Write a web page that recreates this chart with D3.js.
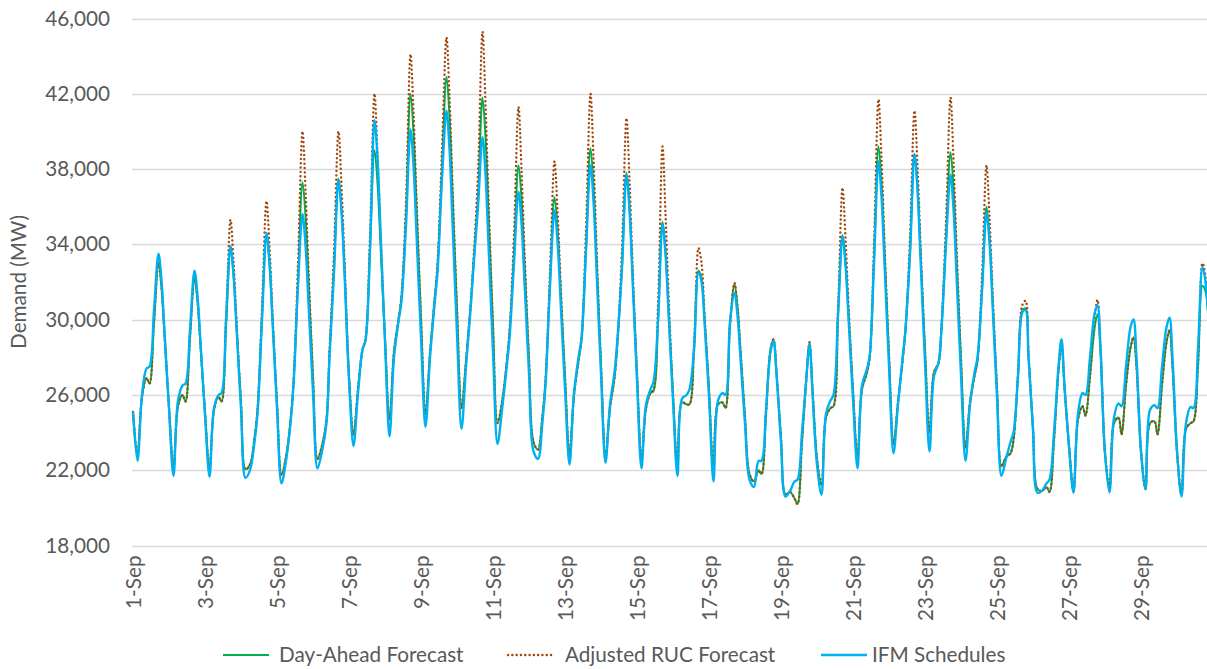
<!DOCTYPE html>
<html>
<head>
<meta charset="utf-8">
<script src="https://cdn.jsdelivr.net/npm/d3@7"></script>
<style>
  body { margin: 0; background: #fff; }
  text { font-family: Lato, "Open Sans", sans-serif; fill: #595959; }
</style>
</head>
<body>
<svg id="chart" width="1207" height="669"></svg>
<script>
var dayLabels = ["1-Sep","2-Sep","3-Sep","4-Sep","5-Sep","6-Sep","7-Sep","8-Sep","9-Sep","10-Sep",
  "11-Sep","12-Sep","13-Sep","14-Sep","15-Sep","16-Sep","17-Sep","18-Sep","19-Sep","20-Sep",
  "21-Sep","22-Sep","23-Sep","24-Sep","25-Sep","26-Sep","27-Sep","28-Sep","29-Sep","30-Sep"];

var sampleHours = [0, 3, 6, 9, 11, 14, 17, 19, 21];

var yTicks = [18000, 22000, 26000, 30000, 34000, 38000, 42000, 46000];

var seriesNames = ["Day-Ahead Forecast", "Adjusted RUC Forecast", "IFM Schedules"];

var dayAhead = [
  25100, 22800, 25900, 26900, 26600, 29800, 33000, 31690, 29190,
  25370, 22100, 25400, 26000, 25650, 29000, 32200, 30980, 28650,
  25095, 22050, 25200, 25900, 25650, 29600, 33800, 32390, 29690,
  25575, 22050, 22300, 23700, 25200, 30200, 34500, 32970, 30040,
  25575, 21750, 22700, 24600, 26600, 32000, 37300, 35540, 32160,
  27010, 22600, 23300, 24700, 28200, 32800, 37500, 35870, 32740,
  27000, 23900, 26300, 28400, 28900, 33800, 39000, 37280, 34000,
  28990, 24700, 28300, 30000, 31200, 35500, 42000, 39960, 36050,
  30100, 25000, 28200, 31000, 32800, 38000, 42900, 40790, 36740,
  30580, 25300, 27800, 30700, 33000, 36500, 41800, 39720, 35750,
  29690, 24500, 25600, 27600, 29300, 33500, 38200, 36440, 33060,
  27910, 23500, 23100, 24900, 26700, 32000, 36500, 34870, 31740,
  26980, 22900, 26000, 27800, 28900, 33700, 39100, 37130, 33360,
  27620, 22700, 25300, 26900, 28800, 32800, 37800, 35980, 32480,
  27160, 22600, 25300, 26100, 26200, 29900, 35200, 33630, 30620,
  26030, 22100, 25600, 25500, 25500, 28400, 32600, 32200, 30110,
  26280, 21900, 25500, 25600, 25300, 29700, 31900, 30690, 28365,
  24830, 21800, 21400, 22000, 21800, 25000, 28400, 28960, 27200,
  23700, 20700, 20850, 20500, 20200, 23500, 27000, 28800, 26300,
  22600, 21200, 24800, 25300, 25400, 30100, 34500, 33080, 30370,
  26240, 22700, 26300, 27100, 27900, 33200, 39200, 37300, 33670,
  28140, 23400, 25600, 27800, 29500, 33600, 38800, 37020, 33620,
  28440, 24000, 27200, 27700, 29600, 34300, 38900, 37020, 33400,
  27910, 23200, 25600, 27000, 27800, 31600, 36000, 34340, 31170,
  26340, 22200, 22700, 22900, 23600, 27000, 30500, 30600, 28100,
  24200, 21000, 20900, 21100, 20850, 23600, 27300, 28700, 26400,
  23300, 20900, 24700, 25400, 24900, 27000, 29500, 30290, 28300,
  22900, 21100, 24500, 24800, 23900, 26500, 28500, 29060, 27500,
  23000, 21000, 24500, 24600, 23900, 26500, 28800, 29440, 27500,
  23000, 20700, 24200, 24500, 24600, 27500, 31800, 31500, 30000
];

var adjustedRuc = [
  25100, 22800, 25900, 26900, 26600, 29900, 33000, 31750, 29200,
  25370, 22100, 25400, 26000, 25650, 29100, 32200, 31000, 28650,
  25095, 22050, 25200, 25900, 25650, 29900, 35300, 33140, 29990,
  25575, 22050, 22300, 23700, 25200, 30600, 36300, 33870, 30400,
  25575, 21750, 22700, 24600, 26700, 33000, 40000, 36890, 32700,
  27010, 22600, 23300, 24700, 28300, 33600, 40000, 37120, 33240,
  27000, 23900, 26300, 28400, 29000, 34500, 42000, 38780, 34600,
  28990, 24700, 28300, 30000, 31300, 36300, 44100, 41010, 36470,
  30100, 25000, 28200, 31000, 33000, 39000, 45000, 41840, 37160,
  30580, 25300, 27800, 30700, 33200, 37800, 45300, 41470, 36450,
  29690, 24500, 25600, 27600, 29400, 34500, 41300, 37990, 33680,
  27910, 23500, 23100, 24900, 26800, 32600, 38400, 35820, 32120,
  26980, 22900, 26000, 27800, 29000, 34800, 42000, 38580, 33940,
  27620, 22700, 25300, 26900, 28900, 33800, 40700, 37430, 33060,
  27160, 22600, 25300, 26100, 26300, 30800, 39200, 35630, 31420,
  26030, 22100, 25600, 25500, 25500, 28600, 33800, 33000, 30300,
  26280, 21900, 25500, 25600, 25300, 29700, 31950, 30700, 28365,
  24830, 21800, 21400, 22000, 21800, 25000, 28400, 28960, 27200,
  23700, 20700, 20850, 20500, 20200, 23500, 27000, 28800, 26300,
  22600, 21200, 24800, 25300, 25400, 30500, 37000, 34330, 30870,
  26240, 22700, 26300, 27100, 27900, 34000, 41700, 38550, 34170,
  28140, 23400, 25600, 27800, 29500, 34400, 41100, 38170, 34080,
  28440, 24000, 27200, 27700, 29700, 35200, 41800, 38470, 33980,
  27910, 23200, 25600, 27000, 27900, 32300, 38200, 35440, 31610,
  26340, 22200, 22700, 22900, 23600, 27100, 30800, 31000, 28200,
  24200, 21000, 20900, 21100, 20850, 23600, 27300, 28700, 26400,
  23300, 20900, 24700, 25400, 24900, 27000, 30000, 31050, 28600,
  22900, 21100, 24500, 24800, 23900, 26500, 28500, 29060, 27500,
  23000, 21000, 24500, 24600, 23900, 26500, 28800, 29440, 27500,
  23000, 20700, 24200, 24500, 24600, 27700, 33000, 32300, 30200
];

var ifmSchedules = [
  25100, 22500, 26000, 27400, 27500, 30500, 33500, 32080, 29370,
  25240, 21700, 25700, 26500, 26600, 29500, 32600, 31290, 28770,
  24940, 21650, 25300, 26000, 26100, 30000, 33900, 32420, 29600,
  25290, 21600, 22000, 23500, 25000, 30000, 34600, 33000, 29950,
  25290, 21300, 22500, 24500, 26500, 31800, 35600, 33980, 30880,
  26150, 22100, 23000, 24500, 28000, 32500, 37400, 35710, 32470,
  26800, 23300, 26100, 28400, 28900, 33700, 40600, 38580, 34720,
  28840, 23800, 28000, 29900, 31000, 35000, 40100, 38200, 34570,
  29040, 24300, 28000, 30800, 32500, 37500, 41100, 39070, 35190,
  29270, 24200, 27500, 30500, 32800, 36000, 39700, 37740, 34000,
  28290, 23400, 25200, 27400, 29000, 33000, 36800, 35140, 31970,
  27140, 23000, 22600, 24600, 26500, 31800, 35800, 34180, 31080,
  26350, 22300, 26100, 28000, 29000, 33700, 38200, 36300, 32670,
  27140, 22400, 25500, 27200, 29000, 32800, 37700, 35830, 32240,
  26780, 22100, 25500, 26300, 26700, 29900, 35100, 33490, 30410,
  25720, 21700, 25800, 26000, 26300, 28400, 32500, 32000, 29900,
  25920, 21400, 25700, 26100, 26000, 29900, 31400, 30210, 27940,
  24470, 21500, 21100, 22500, 22500, 25200, 28300, 28870, 27100,
  23500, 20600, 20900, 21400, 21500, 24000, 27000, 28700, 26100,
  22300, 20700, 25000, 25700, 26000, 30300, 34400, 32920, 30100,
  25790, 22100, 26500, 27300, 28000, 33000, 38400, 36540, 32980,
  27550, 22900, 25500, 27900, 29500, 33500, 38800, 36900, 33270,
  27740, 23000, 27000, 27700, 29500, 34000, 37700, 35880, 32380,
  27060, 22500, 25500, 27200, 28000, 31500, 35700, 34120, 30900,
  25900, 21700, 22600, 23500, 24000, 27000, 30400, 30500, 28000,
  24200, 20800, 20900, 21300, 21500, 24000, 27500, 28960, 26500,
  23270, 20800, 25000, 26100, 26000, 28000, 30300, 30770, 28500,
  22900, 20810, 24800, 25550, 25400, 27500, 29600, 30010, 28000,
  23000, 21000, 25200, 25450, 25300, 27500, 29600, 30100, 28000,
  23000, 20600, 24500, 25360, 25300, 28500, 32800, 32000, 30000
];

var fontSize = "20.7px";

var svg = d3.select("#chart");

var x = d3.scaleLinear().domain([0, 720]).range([133, 1213]);
var y = d3.scaleLinear().domain([18000, 46000]).range([545.5, 18.5]);

function toPoints(values) {
  return values.map(function(v, i) {
    var day = Math.floor(i / sampleHours.length);
    return { hour: day * 24 + sampleHours[i % sampleHours.length], value: v };
  });
}

// gridlines
svg.append("g")
  .selectAll("line")
  .data(yTicks)
  .enter()
  .append("line")
    .attr("x1", 132)
    .attr("x2", 1207)
    .attr("y1", function(d) { return Math.round(y(d)) + 0.5; })
    .attr("y2", function(d) { return Math.round(y(d)) + 0.5; })
    .attr("stroke", "#d9d9d9")
    .attr("stroke-width", 1.3);

// y axis
svg.append("g")
    .attr("transform", "translate(132,0)")
    .call(d3.axisLeft(y).tickValues(yTicks).tickFormat(d3.format(",")).tickSize(0).tickPadding(22))
    .call(function(g) { g.select(".domain").remove(); })
  .selectAll("text")
    .style("font-size", fontSize)
    .style("font-family", "Lato, 'Open Sans', sans-serif")
    .attr("fill", "#595959");

svg.append("text")
    .attr("transform", "translate(26," + ((y(18000) + y(46000)) / 2) + ") rotate(-90)")
    .attr("text-anchor", "middle")
    .style("font-size", fontSize)
    .text("Demand (MW)");

// x axis: a label every second day
var labelDays = d3.range(0, 30, 2);
svg.append("g")
    .attr("transform", "translate(0," + y(18000) + ")")
    .call(d3.axisBottom(x)
      .tickValues(labelDays.map(function(d) { return d * 24; }))
      .tickFormat(function(h) { return dayLabels[h / 24]; })
      .tickSize(0)
      .tickPadding(0))
    .call(function(g) { g.select(".domain").remove(); })
  .selectAll("text")
    .attr("transform", "rotate(-90)")
    .attr("x", -10)
    .attr("y", 0)
    .attr("dy", "0.35em")
    .style("text-anchor", "end")
    .style("font-size", fontSize)
    .style("font-family", "Lato, 'Open Sans', sans-serif")
    .attr("fill", "#595959");

var line = d3.line()
    .x(function(d) { return x(d.hour); })
    .y(function(d) { return y(d.value); })
    .curve(d3.curveCatmullRom.alpha(0.5));

var series = [
  { name: seriesNames[0], values: dayAhead, color: "#00b050", width: 2, dash: null },
  { name: seriesNames[1], values: adjustedRuc, color: "#9e480e", width: 2.4, dash: "0.1 4.2" },
  { name: seriesNames[2], values: ifmSchedules, color: "#00b0f0", width: 2.4, dash: null }
];

svg.append("g")
  .selectAll("path")
  .data(series)
  .enter()
  .append("path")
    .attr("d", function(d) { return line(toPoints(d.values)); })
    .attr("fill", "none")
    .attr("stroke", function(d) { return d.color; })
    .attr("stroke-width", function(d) { return d.width; })
    .attr("stroke-linecap", function(d) { return d.dash ? "round" : "butt"; })
    .attr("stroke-linejoin", "round")
    .attr("stroke-dasharray", function(d) { return d.dash; });

// legend
var legendLineX = [223, 508, 821];
var legendTextX = [279, 565, 872];
var legend = svg.append("g")
    .attr("transform", "translate(0,655)")
  .selectAll("g")
  .data(series)
  .enter()
  .append("g");

legend.append("line")
    .attr("x1", function(d, i) { return legendLineX[i]; })
    .attr("x2", function(d, i) { return legendLineX[i] + 46; })
    .attr("stroke", function(d) { return d.color; })
    .attr("stroke-width", function(d) { return d.width; })
    .attr("stroke-linecap", function(d) { return d.dash ? "round" : "butt"; })
    .attr("stroke-dasharray", function(d) { return d.dash; });

legend.append("text")
    .attr("x", function(d, i) { return legendTextX[i]; })
    .attr("dy", "0.35em")
    .style("font-size", fontSize)
    .text(function(d) { return d.name; });
</script>
</body>
</html>
